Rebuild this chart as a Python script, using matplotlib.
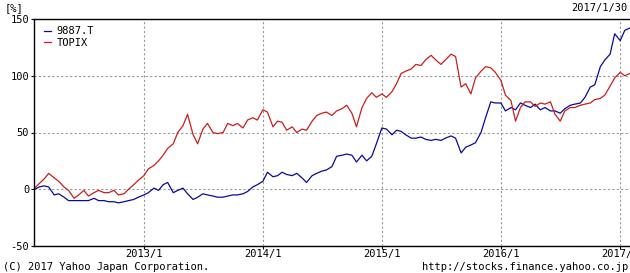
import matplotlib
matplotlib.use("Agg")
import matplotlib.pyplot as plt
import pandas as pd

# ---- data (percent change since 2012/1/30) ----
start_date = "2012-01-30"
end_date = "2017-01-30"
# semi-monthly sample dates (1st and 15th) between start and end
grid_dates = list(pd.date_range("2012-02-01", "2017-01-15", freq="SMS"))
dates = [pd.Timestamp(start_date)] + grid_dates + [pd.Timestamp(end_date)]

topix = [0,
    1, 5, 9, 14, 10, 7, 2, -1, -8, -5, -1, -6,             # 2012 Feb-Jul
    -3, -1, -3, -3, -1, -5, -4, 0, 4, 8,                    # 2012 Aug-Dec
    12, 18, 21, 25, 30, 36, 40, 50, 56, 66, 48, 40,         # 2013 Jan-Jun
    53, 58, 50, 49, 50, 58, 56, 58, 54, 61, 63, 61,         # 2013 Jul-Dec
    70, 68, 55, 60, 59, 52, 55, 50, 53, 52, 60, 65,         # 2014 Jan-Jun
    67, 68, 65, 69, 71, 74, 67, 55, 72, 80, 85, 81,         # 2014 Jul-Dec
    84, 81, 86, 93, 102, 104, 106, 110, 109, 114, 118, 114, # 2015 Jan-Jun
    110, 114, 119, 117, 90, 93, 84, 98, 104, 108, 107, 103, # 2015 Jul-Dec
    96, 83, 78, 60, 72, 77, 77, 73, 76, 75, 77, 66,         # 2016 Jan-Jun
    60, 69, 72, 72, 74, 75, 76, 79, 80, 83, 91, 98,         # 2016 Jul-Dec
    103, 100,                                               # 2017 Jan
    102]

stock = [0,
    0, 2, 3, 2, -5, -4, -7, -10, -10, -10, -10, -10,        # 2012 Feb-Jul
    -8, -10, -10, -11, -11, -12, -11, -10, -9, -7,          # 2012 Aug-Dec
    -5, -3, 1, -1, 4, 6, -3, -1, 1, -4, -9, -7,             # 2013 Jan-Jun
    -4, -5, -6, -7, -7, -6, -5, -5, -4, -2, 2, 4,           # 2013 Jul-Dec
    7, 15, 11, 12, 15, 13, 12, 14, 10, 6, 12, 14,           # 2014 Jan-Jun
    16, 17, 20, 29, 30, 31, 30, 24, 30, 25, 29, 40,         # 2014 Jul-Dec
    54, 53, 48, 52, 51, 48, 45, 45, 46, 44, 43, 44,         # 2015 Jan-Jun
    43, 45, 47, 45, 32, 37, 39, 41, 50, 63, 77, 76,         # 2015 Jul-Dec
    76, 69, 72, 70, 76, 74, 72, 75, 70, 72, 69, 69,         # 2016 Jan-Jun
    67, 71, 74, 75, 76, 81, 90, 92, 108, 114, 119, 137,     # 2016 Jul-Dec
    131, 140,                                               # 2017 Jan
    142]

series_names = ["9887.T", "TOPIX"]
series_colors = ["#0a0a96", "#c81e1e"]
y_ticks = [-50, 0, 50, 100, 150]
x_tick_dates = ["2013-01-01", "2014-01-01", "2015-01-01", "2016-01-01", "2017-01-01"]
x_tick_labels = ["2013/1", "2014/1", "2015/1", "2016/1", "2017/1"]

# ---- figure ----
mono = "DejaVu Sans Mono"
fs = 7.5
fig = plt.figure(figsize=(6.30, 2.73), dpi=100)
ax = fig.add_axes([34 / 630, 1 - 246 / 273, 1 - 34 / 630, (246 - 19) / 273])

ax.plot(dates, stock, color=series_colors[0], lw=0.9, label=series_names[0])
ax.plot(dates, topix, color=series_colors[1], lw=0.9, label=series_names[1])

ax.set_xlim(pd.Timestamp(start_date), pd.Timestamp(end_date) + pd.Timedelta(days=1))
ax.set_ylim(-50, 150)
ax.set_yticks(y_ticks)
ax.set_yticklabels([str(v) for v in y_ticks], fontfamily=mono, fontsize=fs)
ax.set_xticks([pd.Timestamp(d) for d in x_tick_dates])
ax.set_xticklabels(x_tick_labels, fontfamily=mono, fontsize=fs)
ax.tick_params(axis="both", direction="out", length=2.5, width=0.8, color="black", pad=1)
ax.tick_params(axis="x", pad=0)

ax.grid(True, color="#999999", linestyle=(0, (2, 2)), linewidth=0.8)
ax.set_axisbelow(True)
for s in ["left", "bottom", "top"]:
    ax.spines[s].set_linewidth(1.0)
    ax.spines[s].set_color("black")
ax.spines["right"].set_visible(False)

leg = ax.legend(loc="upper left", frameon=False, prop={"family": mono, "size": fs},
                handlelength=0.6, handletextpad=0.6, labelspacing=0.15,
                borderaxespad=0.3, bbox_to_anchor=(0.005, 1.0))

fig.text(5 / 630, 1 - 8 / 273, "[%]", fontfamily=mono, fontsize=fs, va="center", ha="left")
fig.text(628 / 630, 1 - 8 / 273, "2017/1/30", fontfamily=mono, fontsize=fs, va="center", ha="right")
fig.text(3 / 630, 1 / 273, "(C) 2017 Yahoo Japan Corporation.", fontfamily=mono,
         fontsize=fs, va="bottom", ha="left")
fig.text(628 / 630, 1 / 273, "http://stocks.finance.yahoo.co.jp", fontfamily=mono,
         fontsize=fs, va="bottom", ha="right")

fig.savefig("out.png", dpi=100)
